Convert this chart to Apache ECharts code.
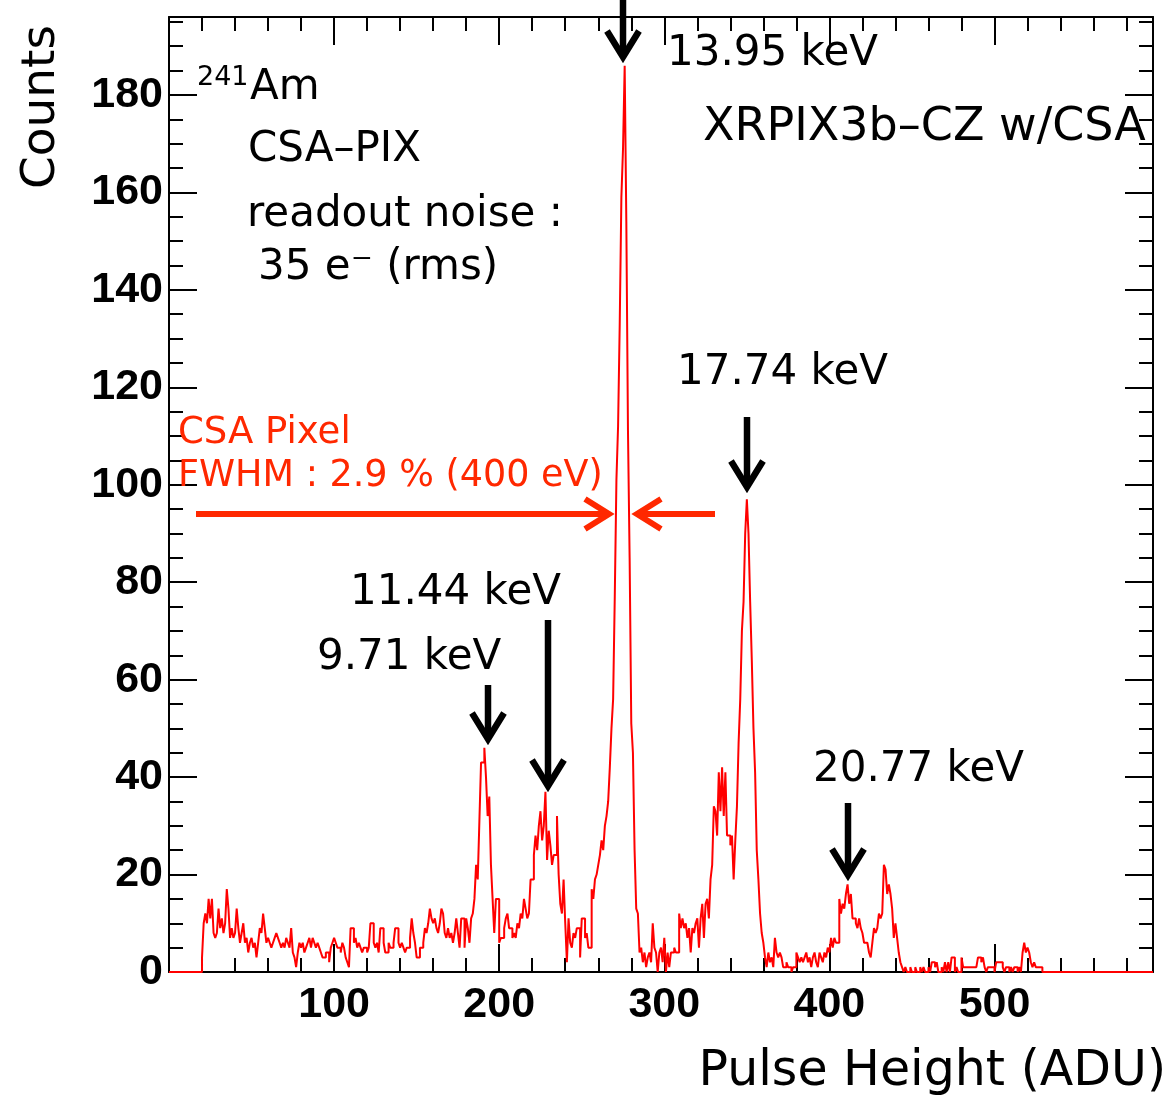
<!DOCTYPE html>
<html>
<head>
<meta charset="utf-8">
<script src="https://cdn.jsdelivr.net/npm/echarts@6/dist/echarts.min.js"></script>
<style>
html, body { margin: 0; padding: 0; background: #fff; }
#chart { width: 1173px; height: 1098px; }
</style>
</head>
<body>
<div id="chart"></div>
<script>
// pulse height spectrum, 1 ADU bins starting at binStart
var binStart = 20;
var counts = [
    3,10,12,10,15,11,15,8,7,8,        // 20
    13,9,11,8,10,17,13,7,9,7,         // 30
    8,13,9,6,8,10,6,7,4,6,            // 40
    7,5,6,3,6,9,8,12,9,6,             // 50
    7,6,5,6,7,8,7,6,5,6,              // 60
    5,7,6,5,9,4,3,1,4,6,              // 70
    5,6,4,5,6,7,5,7,6,5,              // 80
    6,5,4,3,3,4,4,2,5,6,              // 90
    7,6,5,5,4,6,5,3,2,1,              // 100
    9,9,6,7,5,6,5,4,5,5,              // 110
    4,5,10,10,6,5,6,4,9,9,            // 120
    6,4,4,6,5,5,6,9,9,6,              // 130
    5,6,5,4,5,5,7,11,8,6,             // 140
    3,3,5,5,6,9,8,10,13,11,           // 150
    10,11,9,8,10,13,12,8,7,9,         // 160
    7,8,6,8,11,8,5,11,11,5,           // 170
    11,9,6,11,12,15,22,19,31,43,      // 180
    43,46,40,32,36,22,15,8,15,15,     // 190
    6,7,7,9,11,12,9,9,7,8,            // 200
    7,10,9,12,11,15,13,11,12,19,      // 210
    19,24,28,25,30,33,27,30,37,23,    // 220
    29,26,22,24,24,32,20,14,12,19,    // 230
    10,2,11,6,5,8,7,9,9,3,            // 240
    11,11,7,8,5,5,17,15,19,20,        // 250
    22,24,27,25,30,32,35,42,50,56,    // 260
    77,101,112,133,159,169,186,154,111,85, // 270
    51,45,25,13,12,4,5,2,4,1,         // 280
    3,4,2,10,5,4,0,4,5,2,             // 290
    7,0,4,1,4,4,5,4,4,12,             // 300
    9,11,9,10,7,9,4,9,8,10,           // 310
    11,5,11,14,7,14,15,11,19,22,      // 320
    34,33,28,41,33,42,32,41,28,28,    // 330
    26,28,19,27,34,47,56,70,76,90,    // 340
    97,90,76,64,50,41,25,19,12,8,     // 350
    6,3,1,4,2,3,1,7,4,3,              // 360
    4,3,1,1,2,1,1,0,1,1,              // 370
    4,3,2,3,2,3,4,2,3,1,              // 380
    3,4,2,1,4,3,2,4,3,5,              // 390
    4,7,5,7,6,6,15,12,14,13,          // 400
    16,18,14,16,11,11,10,9,11,9,      // 410
    8,6,6,6,4,3,6,9,8,9,              // 420
    12,11,12,22,21,16,18,16,13,7,     // 430
    10,7,4,2,1,0,1,0,0,1,             // 440
    0,0,1,0,0,1,0,1,0,0,              // 450
    1,0,2,2,1,2,0,0,1,0,              // 460
    2,0,2,0,3,3,0,1,0,0,              // 470
    3,1,1,1,1,1,1,1,1,1,              // 480
    3,3,2,3,1,0,1,1,1,1,              // 490
    0,2,2,2,2,1,0,1,1,0,              // 500
    1,0,1,1,0,1,0,4,6,4,              // 510
    5,4,2,1,2,1,1,1,1,0               // 520
];
var xMax = 596;
var yMax = 196;
var xLabels = [100, 200, 300, 400, 500];
var yLabels = [0, 20, 40, 60, 80, 100, 120, 140, 160, 180];

var annoFont = '"DejaVu Sans"';
var annoRed = '#ff2800';

window.onload = function () {
    var chart = echarts.init(document.getElementById('chart'));

    var histData = [[0, 0]];
    for (var i = 0; i < counts.length; i++) {
        histData.push([binStart + i, counts[i]]);
    }
    histData.push([binStart + counts.length, 0]);
    histData.push([xMax, 0]);

    function xAxisOpt(pos, showLabel) {
        return {
            type: 'value', position: pos, min: 0, max: xMax, interval: 100,
            axisLine: {show: true, onZero: false, lineStyle: {color: '#000', width: 2}},
            axisTick: {show: true, inside: true, length: 28, lineStyle: {color: '#000', width: 2}},
            minorTick: {show: true, splitNumber: 5, length: 14, lineStyle: {color: '#000', width: 2}},
            splitLine: {show: false},
            axisLabel: {
                show: showLabel, margin: 12, color: '#000',
                fontFamily: 'Liberation Sans', fontWeight: 'bold', fontSize: 43,
                formatter: function (v) { return xLabels.indexOf(v) >= 0 ? String(v) : ''; }
            }
        };
    }
    function yAxisOpt(pos, showLabel) {
        return {
            type: 'value', position: pos, min: 0, max: yMax, interval: 20,
            axisLine: {show: true, onZero: false, lineStyle: {color: '#000', width: 2}},
            axisTick: {show: true, inside: true, length: 28, lineStyle: {color: '#000', width: 2}},
            minorTick: {show: true, splitNumber: 4, length: 14, lineStyle: {color: '#000', width: 2}},
            splitLine: {show: false},
            axisLabel: {
                show: showLabel, margin: 6, color: '#000',
                fontFamily: 'Liberation Sans', fontWeight: 'bold', fontSize: 43,
                formatter: function (v) { return yLabels.indexOf(v) >= 0 ? String(v) : ''; }
            }
        };
    }

    function txt(s, x, y, size, color) {
        return {
            type: 'text', x: x, y: y, z: 10,
            style: {text: s, font: size + 'px ' + annoFont, fill: color || '#000', align: 'left', verticalAlign: 'middle'}
        };
    }
    function arrowDown(x, y0, y1) {
        return [
            {type: 'line', z: 10, shape: {x1: x, y1: y0, x2: x, y2: y1 - 4}, style: {stroke: '#000', lineWidth: 6.5}},
            {type: 'polyline', z: 10, shape: {points: [[x - 16, y1 - 28], [x, y1 - 2], [x + 16, y1 - 28]]},
                style: {stroke: '#000', lineWidth: 6.5, fill: null, lineJoin: 'miter'}}
        ];
    }
    function arrowH(x0, x1, y) {
        var d = x1 > x0 ? 1 : -1;
        return [
            {type: 'line', z: 10, shape: {x1: x0, y1: y, x2: x1 - d * 4, y2: y}, style: {stroke: annoRed, lineWidth: 6}},
            {type: 'polyline', z: 10, shape: {points: [[x1 - d * 26, y - 15], [x1 - d * 2, y], [x1 - d * 26, y + 15]]},
                style: {stroke: annoRed, lineWidth: 6, fill: null, lineJoin: 'miter'}}
        ];
    }

    var graphics = [
        {type: 'text', x: 42, y: 107, rotation: Math.PI / 2, z: 10,
            style: {text: 'Counts', font: '47px ' + annoFont, fill: '#000', align: 'center', verticalAlign: 'middle'}},
        {type: 'text', x: 1166, y: 1072, z: 10,
            style: {text: 'Pulse Height (ADU)', font: '49px ' + annoFont, fill: '#000', align: 'right', verticalAlign: 'middle'}},
        txt('241', 197, 78, 27),
        txt('Am', 250, 88, 42),
        txt('CSA–PIX', 248, 150, 42),
        txt('readout noise :', 247, 215, 42),
        txt('35 e⁻ (rms)', 258, 268, 42),
        txt('13.95 keV', 667, 54, 42),
        txt('XRPIX3b–CZ w/CSA', 703, 128, 46),
        txt('17.74 keV', 677, 373, 42),
        txt('11.44 keV', 350, 593, 42),
        txt('9.71 keV', 317, 658, 42),
        txt('20.77 keV', 813, 770, 42),
        txt('CSA Pixel', 178, 433, 37, annoRed),
        txt('FWHM : 2.9 % (400 eV)', 178, 477, 36.5, annoRed)
    ];
    graphics = graphics
        .concat(arrowDown(623, 0, 59))
        .concat(arrowDown(747, 417, 489))
        .concat(arrowDown(548, 620, 788))
        .concat(arrowDown(488, 685, 741))
        .concat(arrowDown(848, 803, 877))
        .concat(arrowH(196, 611, 514))
        .concat(arrowH(715, 635, 514));

    var option = {
        backgroundColor: '#fff',
        animation: false,
        grid: {left: 169, right: 20, top: 17, bottom: 126, containLabel: false},
        xAxis: [xAxisOpt('bottom', true), xAxisOpt('top', false)],
        yAxis: [yAxisOpt('left', true), yAxisOpt('right', false)],
        series: [
            {
                type: 'line',
                name: 'CSA-PIX',
                step: 'end',
                data: histData,
                showSymbol: false,
                symbol: 'none',
                lineStyle: {color: '#ff0000', width: 2},
                z: 5
            }
        ],
        graphic: graphics
    };

    chart.setOption(option);
};
</script>
</body>
</html>
